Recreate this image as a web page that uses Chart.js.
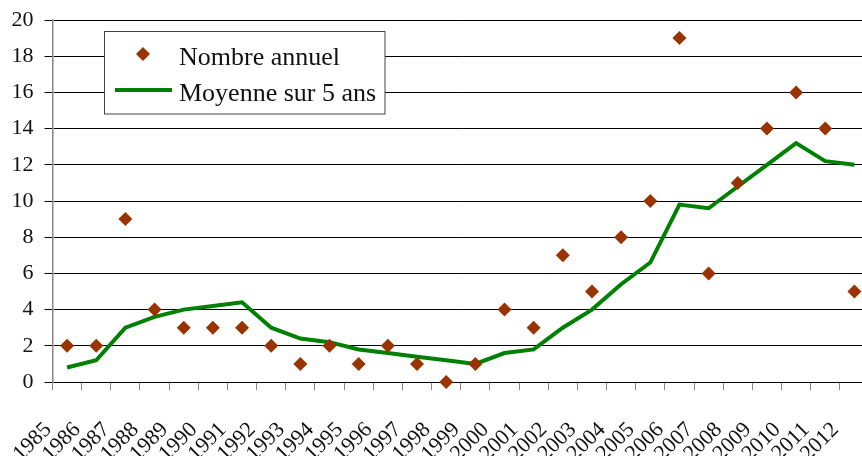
<!DOCTYPE html>
<html><head><meta charset="utf-8">
<script src="https://cdn.jsdelivr.net/npm/chart.js@4/dist/chart.umd.min.js"></script>
<style>html,body{margin:0;padding:0;overflow:hidden;background:#fff}canvas{display:block}</style>
</head><body>
<canvas id="c" width="876" height="456"></canvas>
<script>
const years = ['1985','1986','1987','1988','1989','1990','1991','1992','1993','1994','1995','1996','1997','1998','1999','2000','2001','2002','2003','2004','2005','2006','2007','2008','2009','2010','2011','2012'];
const nombreAnnuel = [2,2,9,4,3,3,3,2,1,2,1,2,1,0,1,4,3,7,5,8,10,19,6,11,14,16,14,5];
const moyenne5ans = [0.8,1.2,3.0,3.6,4.0,4.2,4.4,3.0,2.4,2.2,1.8,1.6,1.4,1.2,1.0,1.6,1.8,3.0,4.0,5.4,6.6,9.8,9.6,10.8,12.0,13.2,12.2,12.0];
const yTicks = [0,2,4,6,8,10,12,14,16,18,20];
const seriesNames = ['Nombre annuel','Moyenne sur 5 ans'];

const FONT = "'Liberation Serif', 'Times New Roman', serif";

const boxLegend = {
  id: 'boxLegend',
  afterDraw(chart) {
    const ctx = chart.ctx;
    const ds = chart.data.datasets;
    ctx.save();
    ctx.fillStyle = '#fff';
    ctx.fillRect(104.5, 31.5, 280.5, 82.5);
    ctx.strokeStyle = '#444';
    ctx.lineWidth = 1;
    ctx.strokeRect(104.5, 31.5, 280.5, 82.5);
    ctx.fillStyle = ds[0].backgroundColor;
    ctx.beginPath();
    ctx.moveTo(143, 47); ctx.lineTo(150, 54); ctx.lineTo(143, 61); ctx.lineTo(136, 54);
    ctx.closePath(); ctx.fill();
    ctx.strokeStyle = ds[1].borderColor;
    ctx.lineWidth = 4;
    ctx.beginPath(); ctx.moveTo(115, 90); ctx.lineTo(172, 90); ctx.stroke();
    ctx.fillStyle = '#111';
    ctx.font = "26px " + FONT;
    ctx.textBaseline = 'alphabetic';
    ctx.textAlign = 'left';
    ctx.fillText(ds[0].label, 179, 65);
    ctx.fillText(ds[1].label, 179, 101);
    ctx.restore();
  }
};

new Chart(document.getElementById('c'), {
  type: 'line',
  data: {
    labels: years,
    datasets: [
      {
        label: seriesNames[0],
        data: nombreAnnuel,
        showLine: false,
        pointStyle: 'rectRot',
        pointRadius: 7,
        pointHoverRadius: 7,
        backgroundColor: '#993300',
        borderColor: '#993300',
        pointBorderWidth: 0,
        clip: false
      },
      {
        label: seriesNames[1],
        data: moyenne5ans,
        borderColor: '#008000',
        backgroundColor: '#008000',
        borderWidth: 4,
        pointRadius: 0,
        tension: 0,
        fill: false
      }
    ]
  },
  options: {
    responsive: false,
    animation: false,
    events: [],
    layout: { padding: { top: 20, left: 0, right: 0, bottom: 0 } },
    plugins: { legend: { display: false }, tooltip: { enabled: false } },
    scales: {
      x: {
        type: 'category',
        offset: true,
        grid: { display: true, drawOnChartArea: false, drawTicks: true, tickLength: 8, offset: true, tickColor: '#888', lineWidth: 1 },
        border: { display: true, color: '#000', width: 1 },
        ticks: {
          autoSkip: false, minRotation: 45, maxRotation: 45,
          labelOffset: -19, padding: 27,
          color: '#111', font: { family: FONT, size: 22 }
        },
        afterFit(scale) { scale.height = 74; scale.paddingRight = 0; scale.paddingLeft = 0; }
      },
      y: {
        min: 0, max: 20,
        afterBuildTicks(scale) { scale.ticks = yTicks.map(v => ({ value: v })); },
        grid: { color: '#000', lineWidth: 1, tickLength: 8, tickColor: '#000' },
        border: { display: true, color: '#888', width: 1.5 },
        ticks: { padding: 11, color: '#111', font: { family: FONT, size: 22 } },
        afterFit(scale) { scale.width = 52.5; scale.paddingTop = 0; scale.paddingBottom = 0; }
      }
    }
  },
  plugins: [boxLegend]
});
</script>
</body></html>
